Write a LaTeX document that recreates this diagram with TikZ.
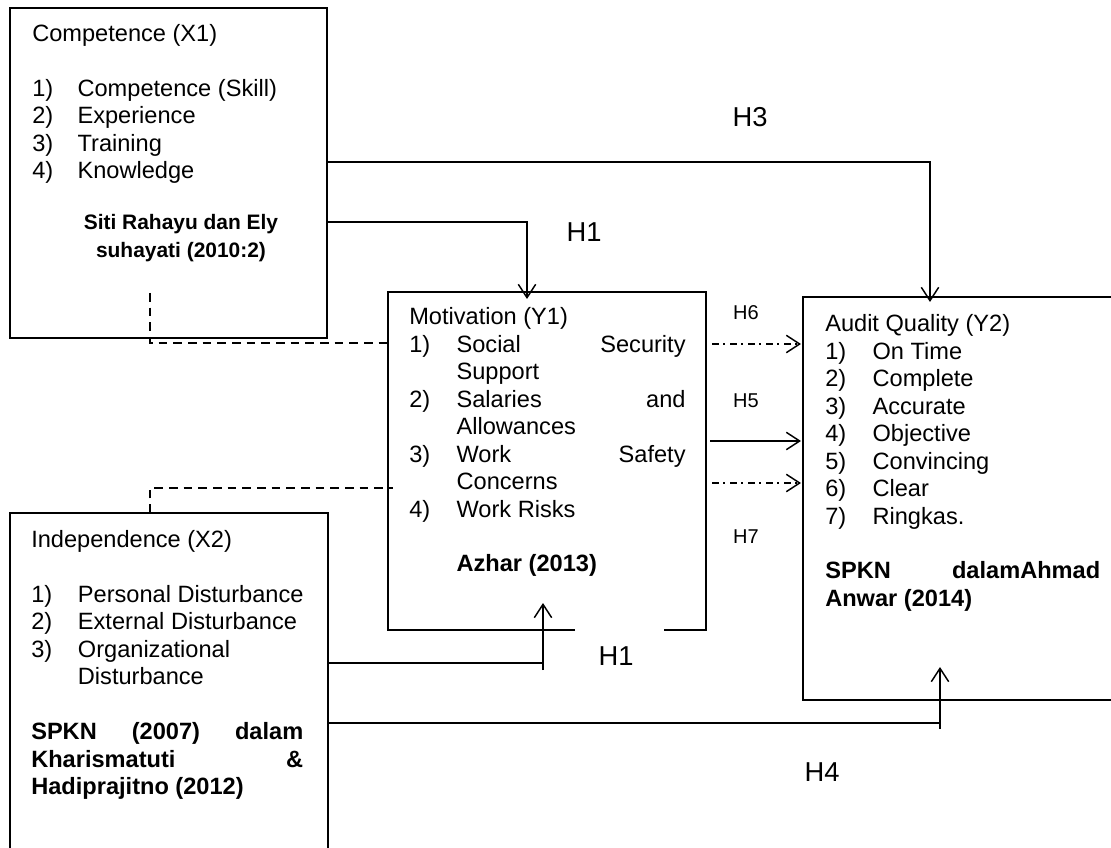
\documentclass[tikz,border=0pt]{standalone}
\usepackage{fontspec}
\setmainfont{Liberation Sans}
\usetikzlibrary{arrows.meta,fit,calc}

\tikzset{
  box/.style={inner sep=0pt, outer sep=0pt},
  boxline/.style={line width=1pt},
  txt/.style={anchor=north west, inner sep=0pt, align=left, font=\fontsize{17.7}{20.625}\selectfont},
  arr/.style={line width=1.1pt, -{Straight Barb[length=10pt,width=13pt,line width=1.1pt]}},
  dsh/.style={line width=1.5pt, dash pattern=on 6.5pt off 4.5pt},
  ddot/.style={arr, dash pattern=on 5pt off 3.5pt on 1.5pt off 3.5pt},
  hbig/.style={inner sep=0pt, font=\fontsize{20.5}{25}\selectfont},
  hsmall/.style={inner sep=0pt, font=\fontsize{15}{18}\selectfont},
}
% numbered item, justified line
\newcommand{\li}[3][35.5pt]{\makebox[#1][l]{#2}#3}
\newcommand{\jl}[2]{\makebox[#1][s]{#2}}

\begin{document}
\begin{tikzpicture}[x=0.75pt,y=-0.75pt]
\useasboundingbox (0,0) rectangle (1111,848);

% boxes
\node[box, fit={(10,8) (327,338)}] (comp) {};
\node[box, fit={(388,292) (706,630)}] (mot) {};
\node[box, fit={(803,297) (1111,700)}] (aud) {};
\node[box, fit={(10,513) (328,848)}] (ind) {};

\draw[boxline] (comp.north west) rectangle (comp.south east);
\draw[boxline] (575,0 |- mot.south) -| (mot.north west) -| (mot.south east) -- (664,0 |- mot.south);
\draw[boxline] (aud.north east) -- (aud.north west) -- (aud.south west) -- (aud.south east);
\draw[boxline] (ind.south west) -- (ind.north west) -- (ind.north east) -- (ind.south east);

% texts
\node[txt] (comptxt) at (32,22) {\strut Competence (X1)\\[20.6pt]
  \li[34pt]{1)}{Competence (Skill)}\\ \li[34pt]{2)}{Experience}\\
  \li[34pt]{3)}{Training}\\ \li[34pt]{4)}{Knowledge}};
\node[txt, anchor=north, align=center, font=\fontsize{15.7}{20.625}\selectfont\bfseries] (compref) at (181,210) {\strut Siti Rahayu dan Ely\\ suhayati (2010:2)};

\node[txt] (mottxt) at (409,305) {\strut Motivation (Y1)\\
  \li{1)}{\jl{171.75pt}{Social Security}}\\ \hspace*{35.5pt}Support\\
  \li{2)}{\jl{171.75pt}{Salaries and}}\\ \hspace*{35.5pt}Allowances\\
  \li{3)}{\jl{171.75pt}{Work Safety}}\\ \hspace*{35.5pt}Concerns\\
  \li{4)}{Work Risks}\\[20.6pt]
  \hspace*{35.5pt}\textbf{Azhar (2013)}};

\node[txt] (audtxt) at (825,312) {\strut Audit Quality (Y2)\\
  \li{1)}{On Time}\\ \li{2)}{Complete}\\ \li{3)}{Accurate}\\ \li{4)}{Objective}\\
  \li{5)}{Convincing}\\ \li{6)}{Clear}\\ \li{7)}{Ringkas.}\\[20.6pt]
  \textbf{\jl{206.25pt}{SPKN dalamAhmad}}\\ \textbf{Anwar (2014)}};

\node[txt] (indtxt) at (31,528) {\strut Independence (X2)\\[20.6pt]
  \li[35pt]{1)}{Personal Disturbance}\\ \li[35pt]{2)}{External Disturbance}\\
  \li[35pt]{3)}{Organizational}\\ \hspace*{35pt}Disturbance\\[20.6pt]
  \textbf{\jl{204pt}{SPKN (2007) dalam}}\\
  \textbf{\jl{204pt}{Kharismatuti \&}}\\
  \textbf{Hadiprajitno (2012)}};

% hypotheses
\draw[arr] (comp.east |- 0,162) -| (930,302);
\draw[arr] (comp.east |- 0,222) -| (527,299);
\draw[dsh] (150,293) |- ($(mot.west |- 0,343)+(5,0)$);
\draw[dsh] (150,0 |- ind.north) |- ($(mot.west |- 0,488)+(5,0)$);
\draw[ddot] ($(mot.east |- 0,344)+(6,0)$) -- ($(aud.west |- 0,344)+(-2,0)$);
\draw[arr] ($(mot.east |- 0,441)+(4,0)$) -- ($(aud.west |- 0,441)+(-2,0)$);
\draw[ddot] ($(mot.east |- 0,483)+(6,0)$) -- ($(aud.west |- 0,483)+(-2,0)$);
\draw[line width=1.1pt] (ind.east |- 0,663) -- (543,663);
\draw[arr] (543,670) -- (543,603);
\draw[line width=1.1pt] (ind.east |- 0,723) -- (940,723);
\draw[arr] (940,729) -- (940,667);

\node[hbig] (h3) at (750,117) {H3};
\node[hbig] (h1a) at (584,232) {H1};
\node[hbig] (h1b) at (616,656) {H1};
\node[hbig] (h4) at (822,772) {H4};
\node[hsmall] (h6) at (746,313) {H6};
\node[hsmall] (h5) at (746,401) {H5};
\node[hsmall] (h7) at (746,537) {H7};
\end{tikzpicture}
\end{document}
